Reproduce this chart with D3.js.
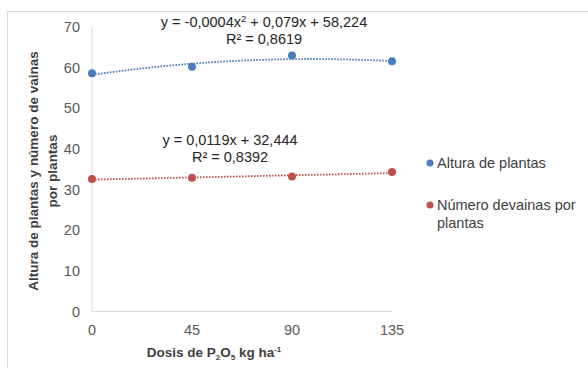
<!DOCTYPE html>
<html><head><meta charset="utf-8">
<script src="https://cdn.jsdelivr.net/npm/d3@7"></script>
<style>body{margin:0;background:#fff}svg{display:block;font-family:"Liberation Sans",Arial,sans-serif}</style>
</head><body><svg id="c" width="588" height="368"></svg>
<script>
const doses = [0, 45, 90, 135];
const altura = [58.6, 60.2, 63.0, 61.6];
const vainas = [32.6, 32.9, 33.2, 34.3];
const yTicks = [0, 10, 20, 30, 40, 50, 60, 70];
const xTicks = [0, 45, 90, 135];
const seriesNames = ["Altura de plantas", "Número devainas por plantas"];
const colors = ["#4a7ebb", "#c0504d"];
const quadCoef = [-0.0004, 0.079, 58.224];
const linCoef = [0.0119, 32.444];

const svg = d3.select("#c");
svg.append("rect").attr("x", 7.5).attr("y", 11.5).attr("width", 600).attr("height", 400)
  .attr("fill", "#fff").attr("stroke", "#d9d9d9");

const x = d3.scaleLinear().domain([0, 135]).range([92, 392]);
const y = d3.scaleLinear().domain([0, 70]).range([311.5, 27]);

svg.append("line").attr("x1", x(0)).attr("x2", x(0)).attr("y1", y(70)).attr("y2", y(0)).attr("stroke", "#d9d9d9");
svg.append("line").attr("x1", x(0)).attr("x2", x(135)).attr("y1", y(0)).attr("y2", y(0)).attr("stroke", "#d9d9d9");

svg.selectAll(".yt").data(yTicks).enter().append("text")
  .attr("x", 80).attr("y", d => y(d) + 5).attr("text-anchor", "end")
  .attr("font-size", 14.5).attr("fill", "#595959").text(d => d);
svg.selectAll(".xt").data(xTicks).enter().append("text")
  .attr("x", d => x(d)).attr("y", 335).attr("text-anchor", "middle")
  .attr("font-size", 14.5).attr("fill", "#595959").text(d => d);

const xs = d3.range(0, 135.01, 1);
const quad = v => quadCoef[0]*v*v + quadCoef[1]*v + quadCoef[2];
const lin = v => linCoef[0]*v + linCoef[1];
const line = d3.line().x(d => x(d[0])).y(d => y(d[1]));
svg.append("path").attr("d", line(xs.map(v => [v, quad(v)]))).attr("fill", "none")
  .attr("stroke", colors[0]).attr("stroke-width", 1.8).attr("stroke-dasharray", "1.6,1.4");
svg.append("path").attr("d", line(xs.map(v => [v, lin(v)]))).attr("fill", "none")
  .attr("stroke", colors[1]).attr("stroke-width", 1.8).attr("stroke-dasharray", "1.6,1.4");

[altura, vainas].forEach((s, i) => {
  svg.selectAll(".p" + i).data(s).enter().append("circle")
    .attr("cx", (d, j) => x(doses[j])).attr("cy", d => y(d)).attr("r", 4)
    .attr("fill", colors[i]);
});

function eq(cx, yb, parts) {
  const t = svg.append("text").attr("x", cx).attr("y", yb).attr("text-anchor", "middle")
    .attr("font-size", 14.5).attr("fill", "#262626");
  parts.forEach(p => {
    const ts = t.append("tspan").text(p[0]);
    if (p[1]) ts.attr("font-size", 9.5).attr("dy", -5);
    if (p[2]) ts.attr("dy", 5);
  });
}
eq(264, 27, [["y = -0,0004x"], ["2", true], [" + 0,079x + 58,224", false, true]]);
eq(264, 44, [["R² = 0,8619"]]);
eq(230, 145, [["y = 0,0119x + 32,444"]]);
eq(230, 162, [["R² = 0,8392"]]);

const yt = svg.append("text").attr("transform", "translate(38,171) rotate(-90)")
  .attr("text-anchor", "middle").attr("font-size", 13.5).attr("font-weight", "bold").attr("fill", "#404040");
yt.append("tspan").attr("x", 0).attr("dy", 0).text("Altura de plantas y número de vainas");
yt.append("tspan").attr("x", 0).attr("dy", 19).text("por plantas");

const xt = svg.append("text").attr("x", 214).attr("y", 357).attr("text-anchor", "middle")
  .attr("font-size", 13.5).attr("font-weight", "bold").attr("fill", "#404040");
xt.append("tspan").text("Dosis de P");
xt.append("tspan").attr("font-size", 8).attr("dy", 3).text("2");
xt.append("tspan").attr("dy", -3).text("O");
xt.append("tspan").attr("font-size", 8).attr("dy", 3).text("5");
xt.append("tspan").attr("dy", -3).text(" kg ha");
xt.append("tspan").attr("font-size", 8).attr("dy", -5).text("-1");

const lg = [[163, [seriesNames[0]]], [205, ["Número devainas por", "plantas"]]];
lg.forEach((l, i) => {
  svg.append("circle").attr("cx", 430).attr("cy", l[0]).attr("r", 3.5).attr("fill", colors[i]);
  const t = svg.append("text").attr("x", 437).attr("y", l[0] + 5).attr("font-size", 14.5).attr("fill", "#404040");
  l[1].forEach((s, k) => t.append("tspan").attr("x", 437).attr("dy", k ? 18 : 0).text(s));
});
</script></body></html>
